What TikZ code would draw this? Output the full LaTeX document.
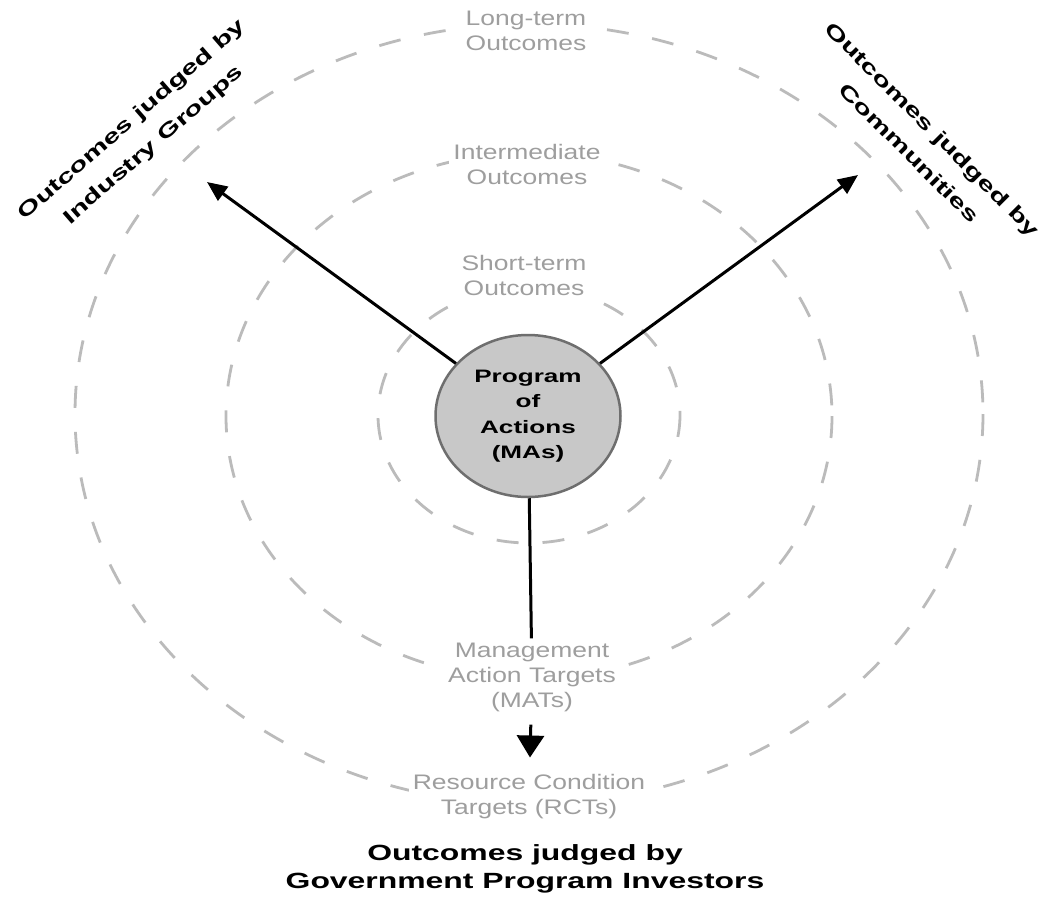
\documentclass[tikz,border=0pt]{standalone}
\usepackage{fontspec}
\setmainfont{Liberation Sans}
\newfontfamily\grayfont[FakeStretch=1.26]{Liberation Sans}
\newfontfamily\widefont[FakeStretch=1.45]{Liberation Sans}
\newfontfamily\tiltfont[FakeStretch=1.5]{Liberation Sans}
\usetikzlibrary{arrows.meta,shapes.geometric}
\definecolor{dashgray}{HTML}{BBBBBB}
\definecolor{txtgray}{HTML}{9E9E9E}
\definecolor{circfill}{HTML}{C8C8C8}
\definecolor{circline}{HTML}{6E6E6E}
\begin{document}
\begin{tikzpicture}[x=1pt,y=-1pt,
  ring/.style={draw=dashgray, line width=2.8pt, dash pattern=on 22pt off 24pt},
  stage/.style={font=\grayfont\fontsize{21}{25}\selectfont, text=txtgray, align=center, fill=white, inner sep=4pt},
  judge/.style={align=center, inner sep=0pt},
  core/.style={ellipse, draw=circline, fill=circfill, line width=2.5pt, minimum width=185pt, minimum height=162pt, inner sep=0pt, align=center, font=\widefont\bfseries\fontsize{18}{25.5}\selectfont},
  conn/.style={line width=3pt, draw=black},
  bigtip/.style={-{Triangle[length=20pt,width=17pt]}},
  smalltip/.style={-{Triangle[length=22pt,width=27pt]}}
]
\fill[white] (0,0) rectangle (1042,898);
\useasboundingbox (0,0) rectangle (1042,898);
% rings
\draw[ring] (529,414) ellipse [x radius=454, y radius=390];
\draw[ring] (529,416) ellipse [x radius=303, y radius=263];
\draw[ring] (529,415) ellipse [x radius=151, y radius=128];
% nodes
\node[core] (prog) at (528,416) {Program\\of\\Actions\\(MAs)};
\node[stage] (lt) at (526,31) {Long-term\\Outcomes};
\node[stage] (im) at (527,164) {Intermediate\\Outcomes};
\node[stage] (st) at (524,275) {Short-term\\Outcomes};
\node[stage] (mat) at (532,677) {Management\\Action Targets\\(MATs)};
\node[stage] (rct) at (529,797) {Resource Condition\\Targets (RCTs)};
\node[judge, font=\widefont\bfseries\fontsize{22}{28}\selectfont] (gov) at (525,869) {Outcomes judged by\\Government Program Investors};
\node[judge, rotate=41, font=\tiltfont\bfseries\fontsize{19.8}{33}\selectfont] (ind) at (143,133) {Outcomes judged by\\Industry Groups};
\node[judge, rotate=-45, font=\tiltfont\bfseries\fontsize{19.8}{33}\selectfont] (com) at (921,141) {Outcomes judged by\\Communities};
\coordinate (tipL) at (207,182);
\coordinate (tipR) at (858,175);
% connectors
\draw[conn, bigtip] (prog) -- (tipL);
\draw[conn, bigtip] (prog) -- (tipR);
\draw[conn] (prog) -- (mat);
\draw[conn, smalltip, shorten <=9pt, shorten >=13pt] (mat) -- (rct);
\end{tikzpicture}
\end{document}
